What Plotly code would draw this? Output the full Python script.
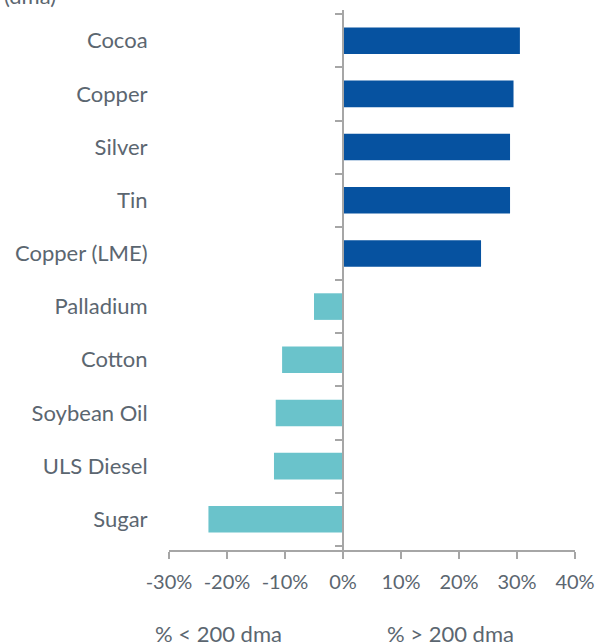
import plotly.graph_objects as go

# Commodities: distance from 200-day moving average (%)
commodities = ["Cocoa", "Copper", "Silver", "Tin", "Copper (LME)",
               "Palladium", "Cotton", "Soybean Oil", "ULS Diesel", "Sugar"]
pct_vs_200dma = [30.5, 29.4, 28.8, 28.8, 23.8, -5.0, -10.5, -11.6, -11.9, -23.2]

x_tick_vals = [-30, -20, -10, 0, 10, 20, 30, 40]
x_tick_text = ["-30%", "-20%", "-10%", "0%", "10%", "20%", "30%", "40%"]

ABOVE = "#0652A0"
BELOW = "#6AC3CB"
TEXT = "#5B6670"
AXIS = "#A6A6A6"
FONT = "Lato"

W, H = 599, 644
M_L, M_R, M_T, M_B = 169, 24, 10, 94
PLOT_W = W - M_L - M_R
PLOT_H = H - M_T - M_B

bar_colors = [ABOVE if v >= 0 else BELOW for v in pct_vs_200dma]

fig = go.Figure()
fig.add_trace(go.Bar(
    x=pct_vs_200dma, y=commodities, orientation="h",
    marker=dict(color=bar_colors, line=dict(width=0)),
    width=0.5, hoverinfo="x+y",
))
# invisible companion trace that carries the zero-line category axis
fig.add_trace(go.Scatter(
    x=[0] * len(commodities), y=commodities, yaxis="y2",
    mode="markers", marker=dict(opacity=0), hoverinfo="skip", showlegend=False,
))

label_font = dict(family=FONT, size=22, color=TEXT)

fig.update_layout(
    width=W, height=H,
    margin=dict(l=M_L, r=M_R, t=M_T, b=M_B, autoexpand=False),
    paper_bgcolor="white", plot_bgcolor="white",
    showlegend=False,
    font=label_font,
    xaxis=dict(
        range=[-30, 40], tickvals=x_tick_vals, ticktext=x_tick_text,
        showgrid=False, zeroline=False, automargin=False,
        showline=True, linecolor=AXIS, linewidth=1.5,
        ticks="outside", ticklen=7, tickcolor=AXIS, tickwidth=1.5,
        ticklabelstandoff=6,
        tickfont=dict(family=FONT, size=20, color=TEXT),
        fixedrange=True,
    ),
    yaxis=dict(
        categoryorder="array", categoryarray=commodities[::-1],
        showgrid=False, zeroline=False, showline=False, automargin=False,
        ticks="outside", ticklen=16, tickcolor="rgba(0,0,0,0)",
        tickfont=label_font,
        fixedrange=True,
    ),
    yaxis2=dict(
        overlaying="y", matches="y", anchor="free", position=3 / 7,
        categoryorder="array", categoryarray=commodities[::-1],
        showgrid=False, zeroline=False, showticklabels=False, automargin=False,
        showline=True, linecolor=AXIS, linewidth=2,
        ticks="outside", ticklen=7, tickcolor=AXIS, tickwidth=1.5,
        tickson="boundaries",
        fixedrange=True,
    ),
    annotations=[
        dict(text="% < 200 dma", x=-21.5, y=-83 / PLOT_H, xref="x", yref="paper",
             yanchor="middle", showarrow=False, font=label_font),
        dict(text="% > 200 dma", x=18.5, y=-83 / PLOT_H, xref="x", yref="paper",
             yanchor="middle", showarrow=False, font=label_font),
        dict(text="(dma)", x=-(M_L - 2) / PLOT_W, y=1 + (M_T + 5) / PLOT_H,
             xref="paper", yref="paper", xanchor="left", yanchor="middle",
             showarrow=False, font=label_font),
    ],
)

fig.write_html("out.html")
